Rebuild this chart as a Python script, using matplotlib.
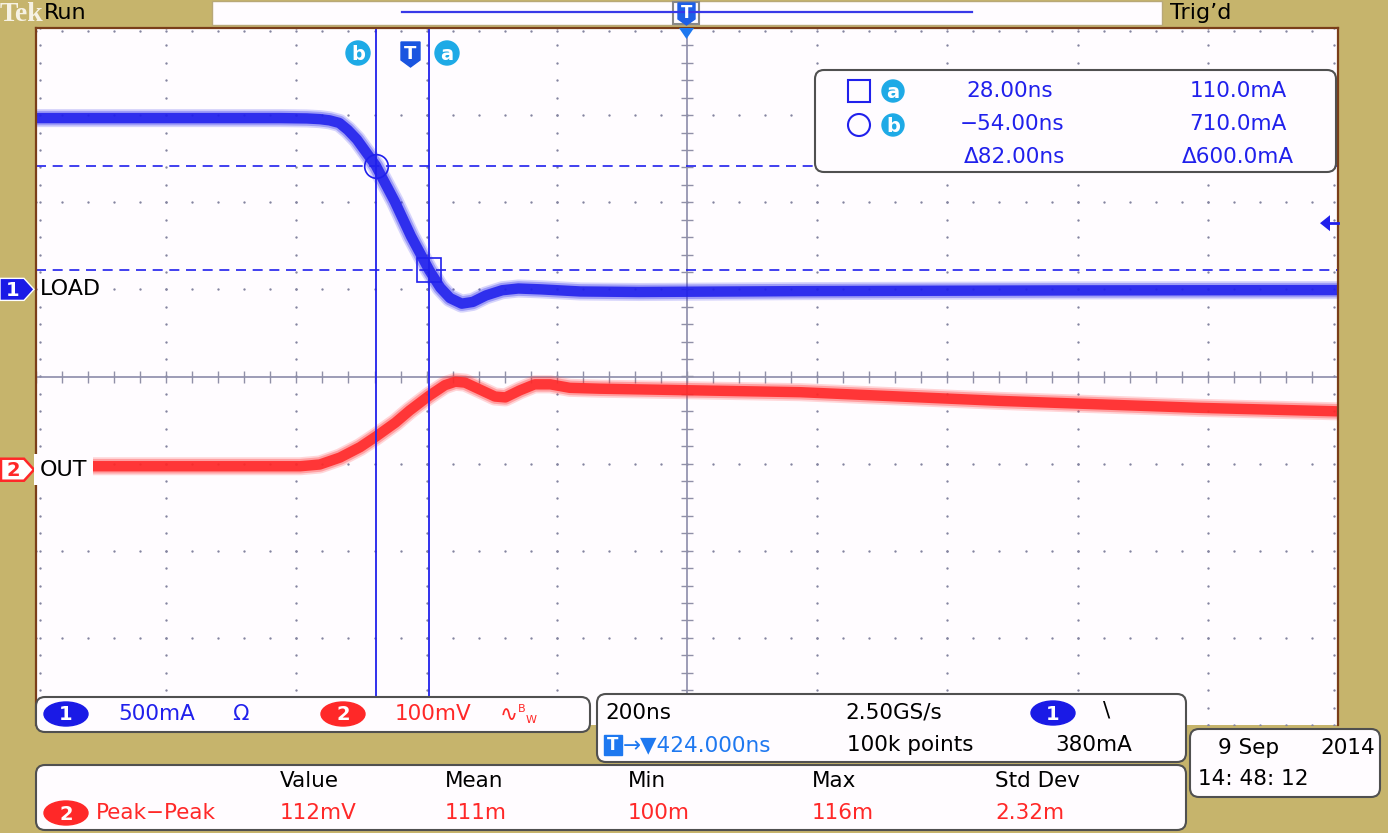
import numpy as np
import matplotlib
matplotlib.use("Agg")
import matplotlib.pyplot as plt
from matplotlib.patches import FancyBboxPatch, Ellipse, Rectangle, Polygon, Circle

# --- datos de la captura (tiempo en ns, corriente en mA, tension en mV) ---
t_load = [-576, -330, -200, -160, -140, -125, -110, -97, -83, -54, -25, 0, 28, 45, 60, 78,
          95, 115, 140, 165, 200, 260, 350, 600, 1000, 1424]
i_load = [983, 983, 983, 981, 977, 970, 955, 915, 860, 710, 505, 305, 110, 10, -50, -82,
          -72, -35, -5, 5, 0, -12, -15, -10, -6, -4]

t_out = [-576, -300, -170, -140, -109, -78, -54, -24, -2, 28, 52, 68, 83, 106,
         129, 145, 167, 190, 214, 244, 290, 444, 598, 905, 1212, 1424]
v_out = [4, 4, 4, 6, 14, 26, 38, 54, 68, 85, 97, 101, 100, 92,
         84, 83, 91, 98, 98, 94, 93, 91, 89, 79, 71, 67]

# escalas y posiciones de canal
ch1_scale, ch1_offset = 500.0, 1.0     # mA/div, div
ch2_scale, ch2_offset = 100.0, -1.07   # mV/div, div
t_div, t_center = 200.0, 424.0          # ns/div, ns
trig_level = 380                         # mA

cursor_t = [28.0, -54.0]     # a, b
cursor_i = [110.0, 710.0]

meas_headers = ["Value", "Mean", "Min", "Max", "Std Dev"]
meas_values = ["112mV", "111m", "100m", "116m", "2.32m"]

W, H = 1388, 833
BG = "#C6B46C"
BLUE = "#2020EC"
RED = "#FF2828"
CYAN = "#1EAAE6"
TBLUE = "#1E78F0"
FS = 15.5

plt.rcParams["font.family"] = ["DejaVu Sans"]

fig = plt.figure(figsize=(W / 100, H / 100), dpi=100, facecolor=BG)

# --- graticula ---
ax = fig.add_axes([36 / W, (H - 725) / H, 1302 / W, 697 / H])
x0, x1 = t_center - 5 * t_div, t_center + 5 * t_div
ax.set_xlim(x0, x1)
ax.set_ylim(-4, 4)
ax.set_facecolor("#FFFCFF")
ax.set_xticks([])
ax.set_yticks([])
for s in ["left", "top", "right"]:
    ax.spines[s].set_color("#7A3E1A")
    ax.spines[s].set_linewidth(1.6)
ax.spines["bottom"].set_visible(False)

dot = dict(ls="none", marker="o", ms=1.7, color="#8484A0", mec="none")
ys = np.arange(-4, 4.01, 0.2)
xs = np.arange(x0, x1 + 1, t_div / 5)
for k in range(11):
    if k == 5:
        continue
    xv = x0 + k * t_div
    if k == 0:
        xv += 6
    if k == 10:
        xv -= 6
    ax.plot(np.full_like(ys, xv), ys, **dot)
for k in range(-4, 5):
    if k == 0:
        continue
    yv = k - 0.04 if k == 4 else k
    ax.plot(xs, np.full_like(xs, yv), **dot)
ax.axhline(0, color="#8C8CAA", lw=1.2)
ax.axvline(t_center, color="#8C8CAA", lw=1.2)
ax.plot(xs, np.zeros_like(xs), ls="none", marker="|", ms=8, color="#9090A8", mew=1)
ax.plot(np.full_like(ys, t_center), ys, ls="none", marker="_", ms=8, color="#9090A8", mew=1)


def trace(t, v, scale, off, color):
    y = np.array(v) / scale + off
    ax.plot(t, y, color=color, lw=13, alpha=0.18, solid_joinstyle="round")
    ax.plot(t, y, color=color, lw=10.5, alpha=0.3, solid_joinstyle="round")
    ax.plot(t, y, color=color, lw=7.5, alpha=0.88, solid_joinstyle="round")


trace(t_out, v_out, ch2_scale, ch2_offset, RED)
trace(t_load, i_load, ch1_scale, ch1_offset, BLUE)

# cursores
for ct in cursor_t:
    ax.axvline(ct, color=BLUE, lw=1.3)
for ci in cursor_i:
    ax.axhline(ci / ch1_scale + ch1_offset, color=BLUE, lw=1.2, ls=(0, (6, 4)))
ax.plot(cursor_t[1], cursor_i[1] / ch1_scale + ch1_offset, marker="o", ms=17,
        mfc="none", mec=BLUE, mew=1.2)
ax.plot(cursor_t[0], cursor_i[0] / ch1_scale + ch1_offset, marker="s", ms=17,
        mfc="none", mec=BLUE, mew=1.2)

# --- capa superior en pixeles ---
ov = fig.add_axes([0, 0, 1, 1])
ov.set_xlim(0, W)
ov.set_ylim(H, 0)
ov.axis("off")
ov.patch.set_alpha(0)


def rbox(xa, ya, xb, yb, r=9):
    ov.add_patch(FancyBboxPatch((xa, ya), xb - xa, yb - ya,
                                boxstyle=f"round,pad=0,rounding_size={r}",
                                fc="#FFFCFF", ec="#505050", lw=1.5))


def badge(x, y, txt, fc, w=44, h=24):
    ov.add_patch(Ellipse((x, y), w, h, fc=fc, ec=fc))
    ov.text(x, y + 1, txt, color="white", ha="center", va="center",
            fontsize=14, fontweight="bold")


def letter(x, y, txt, r=12):
    ov.add_patch(Circle((x, y), r, fc=CYAN, ec=CYAN))
    ov.text(x, y + 1, txt, color="white", ha="center", va="center",
            fontsize=14, fontweight="bold")


def txt(x, y, s, color="black", ha="left", fs=FS, **kw):
    ov.text(x, y, s, color=color, ha=ha, va="center", fontsize=fs, **kw)


# barra superior
ov.text(0, 14, "Tek", color="#F6F2E4", fontsize=20, fontweight="bold",
        family=["Liberation Serif", "DejaVu Serif"], va="center")
txt(44, 13, "Run", fs=16)
ov.add_patch(Rectangle((212, 1), 950, 24, fc="#FFFCFF", ec="#B8A878", lw=1))
ov.plot([402, 972], [12, 12], color="#3838E8", lw=1.6)
ov.add_patch(Rectangle((673, 2), 26, 22, fc="none", ec="#888888", lw=1.5))
ov.add_patch(Polygon([(678, 3), (695, 3), (695, 19), (686.5, 25), (678, 19)],
                     fc="#1E5FE6", ec="#1E5FE6"))
ov.text(686.5, 13, "T", color="white", ha="center", va="center", fontsize=12,
        fontweight="bold")
ov.add_patch(Polygon([(679, 28), (694, 28), (686.5, 39)], fc="#1E78F0", ec="none"))
txt(1170, 13, "Trig\u2019d", fs=16)

# etiquetas de cursores
letter(358, 53, "b")
letter(447, 53, "a")
ov.add_patch(Polygon([(401, 42), (420, 42), (420, 60), (410.5, 67), (401, 60)],
                     fc="#1A55E0", ec="#1A55E0"))
ov.text(410.5, 54, "T", color="white", ha="center", va="center", fontsize=13,
        fontweight="bold")

# lectura de cursores
rbox(815, 70, 1336, 172)
ov.add_patch(Rectangle((848, 80), 22, 22, fc="none", ec=BLUE, lw=1.5))
letter(893, 91, "a", r=11)
ov.add_patch(Circle((859, 125), 11, fc="none", ec=BLUE, lw=1.5))
letter(893, 125, "b", r=11)
dt = cursor_t[0] - cursor_t[1]
di = cursor_i[1] - cursor_i[0]
txt(1010, 91, f"{cursor_t[0]:.2f}ns", BLUE, "center")
txt(1238, 91, f"{cursor_i[0]:.1f}mA", BLUE, "center")
txt(1012, 124, f"\u2212{abs(cursor_t[1]):.2f}ns", BLUE, "center")
txt(1238, 124, f"{cursor_i[1]:.1f}mA", BLUE, "center")
txt(1015, 157, f"\u0394{dt:.2f}ns", BLUE, "center")
txt(1238, 157, f"\u0394{di:.1f}mA", BLUE, "center")

# nivel de disparo (flecha derecha)
y_trig = H - ax.transData.transform((0, trig_level / ch1_scale + ch1_offset))[1]
ov.add_patch(Polygon([(1320, y_trig), (1330, y_trig - 8), (1330, y_trig + 8)],
                     fc=BLUE, ec="none"))
ov.plot([1328, 1338], [y_trig, y_trig], color=BLUE, lw=2)

# marcadores de canal a la izquierda
y1 = H - ax.transData.transform((0, ch1_offset))[1]
y2 = H - ax.transData.transform((0, ch2_offset))[1]
ov.add_patch(Polygon([(0, y1 - 11), (24, y1 - 11), (34, y1), (24, y1 + 11), (0, y1 + 11)],
                     fc="#1A1AE6", ec="white", lw=1))
ov.text(13, y1 + 1, "1", color="white", ha="center", va="center", fontsize=14,
        fontweight="bold")
ov.add_patch(Polygon([(1, y2 - 11), (24, y2 - 11), (34, y2), (24, y2 + 11), (1, y2 + 11)],
                     fc="white", ec=RED, lw=1.8))
ov.text(13, y2 + 1, "2", color=RED, ha="center", va="center", fontsize=14,
        fontweight="bold")
txt(40, y1, "LOAD", fs=16, bbox=dict(fc="#FFFCFF", ec="none", pad=1.5))
txt(40, y2, "OUT", fs=16, bbox=dict(fc="#FFFCFF", ec="none", pad=4))

# paneles inferiores
rbox(36, 697, 590, 732)
badge(66, 714, "1", "#1A1AE6")
txt(118, 714, f"{ch1_scale:.0f}mA", BLUE)
txt(232, 714, "\u03a9", BLUE)
badge(343, 714, "2", RED)
txt(395, 714, f"{ch2_scale:.0f}mV", RED)
txt(500, 715, "\u223f", RED)
txt(518, 709, "B", RED, fs=8)
txt(526, 720, "W", RED, fs=8)

rbox(597, 694, 1186, 762)
txt(605, 713, f"{t_div:.0f}ns")
txt(845, 713, "2.50GS/s")
badge(1053, 713, "1", "#1A1AE6")
txt(1103, 711, "\\")
ov.add_patch(Rectangle((604, 735), 18, 20, fc=TBLUE, ec=TBLUE))
ov.text(613, 745.5, "T", color="white", ha="center", va="center", fontsize=12,
        fontweight="bold")
txt(623, 745, f"\u2192\u25bc{t_center:.3f}ns", TBLUE)
txt(847, 745, "100k points")
txt(1055, 745, f"{trig_level}mA")

rbox(36, 765, 1186, 830)
meas_x = [280, 445, 628, 812, 995]
for mx, hd, mv in zip(meas_x, meas_headers, meas_values):
    txt(mx, 781, hd)
    txt(mx, 813, mv, RED)
badge(66, 813, "2", RED)
txt(96, 813, "Peak\u2212Peak", RED)

rbox(1190, 729, 1380, 797)
txt(1218, 748, "9 Sep")
txt(1320, 748, "2014")
txt(1198, 779, "14: 48: 12")

fig.savefig("out.png", dpi=100, facecolor=BG)
